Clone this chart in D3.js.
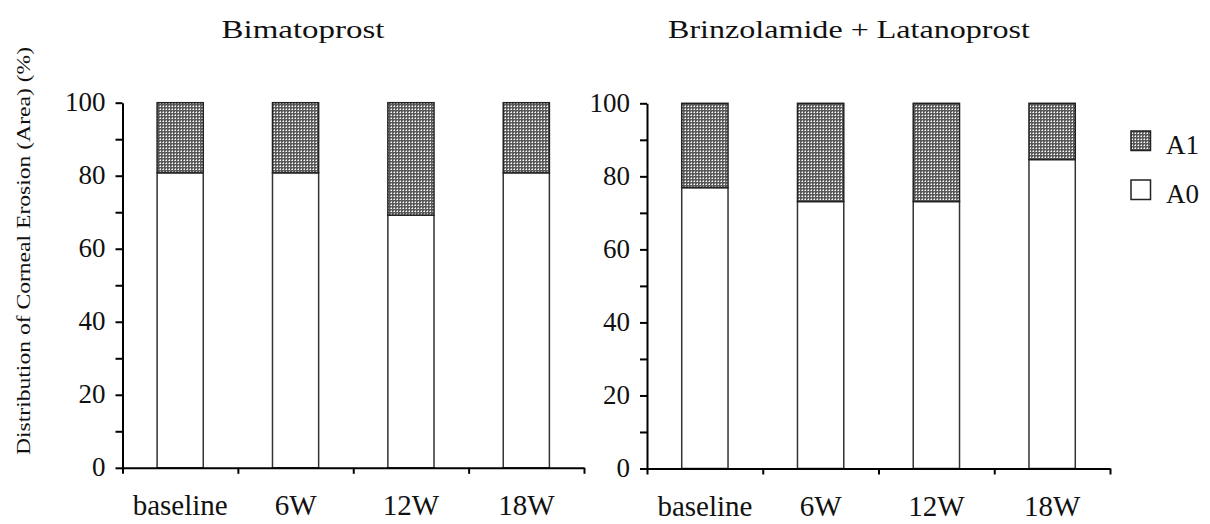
<!DOCTYPE html>
<html lang="en">
<head>
<meta charset="UTF-8">
<script src="https://d3js.org/d3.v7.min.js"></script>
<style>
  body { margin: 0; background: #fff; }
  svg text { font-family: "Liberation Serif", "Times New Roman", serif; fill: #111; }
</style>
<title>Corneal Erosion Distribution</title>
</head>
<body>
<div id="chart"></div>
<script>
// data
const categories = ["baseline", "6W", "12W", "18W"];
const panels = ["Bimatoprost", "Brinzolamide + Latanoprost"];
const a0Bimatoprost = [80.8, 80.8, 69.2, 80.8];
const a0BrinzLatano = [76.9, 73.1, 73.1, 84.6];
const yTicks = [0, 10, 20, 30, 40, 50, 60, 70, 80, 90, 100];
const legendLabels = ["A1", "A0"];

const w = 1210, h = 524;
const svg = d3.select("#chart").append("svg")
  .attr("width", w).attr("height", h);

// dotted fill for A1
const pat = svg.append("defs").append("pattern")
  .attr("id", "dots").attr("patternUnits", "userSpaceOnUse")
  .attr("width", 3).attr("height", 3);
pat.append("rect").attr("width", 3).attr("height", 3).attr("fill", "#5a5a5a");
pat.append("rect").attr("x", 1).attr("y", 1).attr("width", 1).attr("height", 1).attr("fill", "#fff");
pat.append("rect").attr("x", 0).attr("y", 1).attr("width", 1).attr("height", 1).attr("fill", "#b4b4b4");
pat.append("rect").attr("x", 1).attr("y", 0).attr("width", 1).attr("height", 1).attr("fill", "#b4b4b4");

const layout = [
  { left: 122.5, right: 584, top: 102.7, bottom: 467.8, values: a0Bimatoprost, tx: 303, tlen: 163 },
  { left: 647, right: 1110, top: 103.3, bottom: 468.5, values: a0BrinzLatano, tx: 849, tlen: 362 }
];

layout.forEach((p, pi) => {
  const g = svg.append("g");
  const x = d3.scaleBand().domain(categories).range([p.left, p.right])
    .paddingInner(0.6).paddingOuter(0.3);
  const xEdge = d3.scaleLinear().domain([0, categories.length]).range([p.left, p.right]);
  const y = d3.scaleLinear().domain([0, 100]).range([p.bottom, p.top]);

  // A0 (white) part
  g.selectAll(".a0").data(p.values).enter().append("rect")
    .attr("x", (d, i) => x(categories[i]))
    .attr("y", d => y(d))
    .attr("width", x.bandwidth())
    .attr("height", d => y(0) - y(d))
    .attr("fill", "#fff").attr("stroke", "#333").attr("stroke-width", 1.5);

  // A1 (dotted) part
  g.selectAll(".a1").data(p.values).enter().append("rect")
    .attr("x", (d, i) => x(categories[i]))
    .attr("y", y(100))
    .attr("width", x.bandwidth())
    .attr("height", d => y(d) - y(100))
    .attr("fill", "url(#dots)").attr("stroke", "#222").attr("stroke-width", 1.5);

  // y axis
  const yAxis = d3.axisLeft(y).tickValues(yTicks).tickSize(7).tickSizeOuter(0).tickPadding(10)
    .tickFormat(d => d % 20 === 0 ? d : "");
  const ya = g.append("g").attr("transform", "translate(" + p.left + ",0)").call(yAxis);
  ya.selectAll("path, line").attr("stroke", "#000").attr("stroke-width", 2);
  ya.selectAll("text").style("font-size", "27px").attr("dy", "0.3em");

  // x axis: boundary ticks + labels
  const xa = g.append("g").attr("transform", "translate(0," + p.bottom + ")")
    .call(d3.axisBottom(xEdge).tickValues(d3.range(0, categories.length + 1))
      .tickSize(6).tickSizeOuter(0).tickFormat(""));
  xa.selectAll("path, line").attr("stroke", "#000").attr("stroke-width", 2);

  const xl = g.append("g").attr("transform", "translate(0," + p.bottom + ")")
    .call(d3.axisBottom(x).tickSize(0).tickPadding(27));
  xl.select(".domain").remove();
  xl.selectAll("text").style("font-size", "29px");

  // panel title
  svg.append("text").attr("x", p.tx).attr("y", 38)
    .attr("text-anchor", "middle").style("font-size", "25px")
    .attr("textLength", p.tlen).attr("lengthAdjust", "spacingAndGlyphs")
    .text(panels[pi]);
});

// y axis title
svg.append("text")
  .attr("transform", "translate(30,251) rotate(-90)")
  .attr("text-anchor", "middle").style("font-size", "19px")
  .attr("textLength", 408).attr("lengthAdjust", "spacingAndGlyphs")
  .text("Distribution of Corneal Erosion (Area) (%)");

// legend
const legY = [131, 180];
const leg = svg.append("g");
legendLabels.forEach((lab, i) => {
  leg.append("rect").attr("x", 1131).attr("y", legY[i]).attr("width", 19.5).attr("height", 19.5)
    .attr("fill", i === 0 ? "url(#dots)" : "#fff")
    .attr("stroke", "#222").attr("stroke-width", 1.5);
  leg.append("text").attr("x", 1166).attr("y", legY[i] + 23)
    .style("font-size", "27px").text(lab);
});
</script>
</body>
</html>
